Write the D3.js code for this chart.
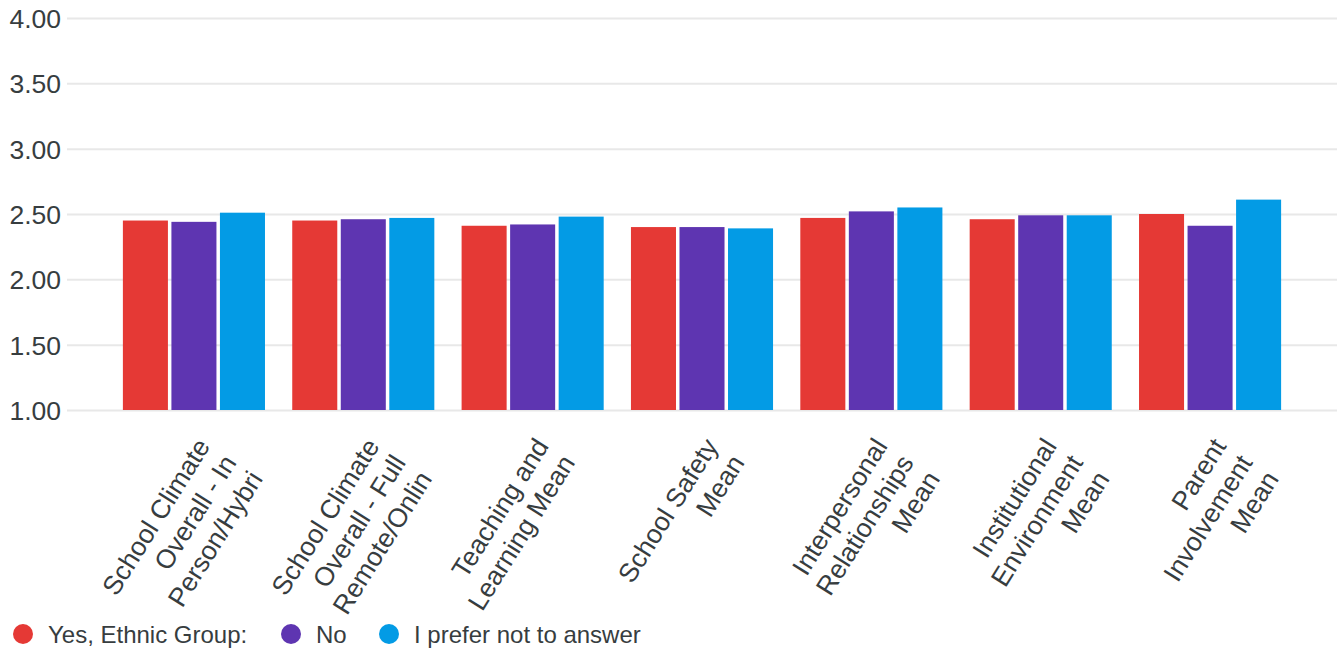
<!DOCTYPE html>
<html>
<head>
<meta charset="utf-8">
<script src="https://cdn.jsdelivr.net/npm/d3@7"></script>
<style>
  html, body { margin: 0; padding: 0; background: #fff; }
  svg { display: block; font-family: "Liberation Sans", Arial, sans-serif; }
</style>
</head>
<body>
<svg id="chart" width="1342" height="654"></svg>
<script>
const categories = [
  ["School Climate", "Overall - In", "Person/Hybri"],
  ["School Climate", "Overall - Full", "Remote/Onlin"],
  ["Teaching and", "Learning Mean"],
  ["School Safety", "Mean"],
  ["Interpersonal", "Relationships", "Mean"],
  ["Institutional", "Environment", "Mean"],
  ["Parent", "Involvement", "Mean"]
];
const seriesNames = ["Yes, Ethnic Group:", "No", "I prefer not to answer"];
const seriesColors = ["#E53935", "#5E35B1", "#039BE5"];
const yesValues    = [2.45, 2.45, 2.41, 2.40, 2.47, 2.46, 2.50];
const noValues     = [2.44, 2.46, 2.42, 2.40, 2.52, 2.49, 2.41];
const preferValues = [2.51, 2.47, 2.48, 2.39, 2.55, 2.49, 2.61];
const yTicks = [1.0, 1.5, 2.0, 2.5, 3.0, 3.5, 4.0];

const series = [yesValues, noValues, preferValues];
const catKeys = categories.map((c, i) => i);

const svg = d3.select("#chart");

const x0 = d3.scaleBand().domain(catKeys).range([67, 1337])
  .paddingInner(0.161).paddingOuter(0.33);
const x1 = d3.scaleBand().domain([0, 1, 2]).range([0, x0.bandwidth()])
  .paddingInner(0.072);
const y = d3.scaleLinear().domain([1, 4]).range([410, 18]);

// gridlines
const grid = svg.append("g").attr("class", "grid")
  .attr("transform", "translate(67,0)")
  .call(d3.axisLeft(y).tickValues(yTicks).tickSize(-1270).tickFormat(""));
grid.select(".domain").remove();
grid.selectAll("line").attr("stroke", "#e8e8e8").attr("stroke-width", 2);

// y labels
const yAxis = svg.append("g").attr("transform", "translate(61,0)")
  .call(d3.axisLeft(y).tickValues(yTicks).tickSize(0).tickPadding(0).tickFormat(d3.format(".2f")));
yAxis.select(".domain").remove();
yAxis.selectAll("text")
  .attr("font-size", 26.5).attr("fill", "#373d3f")
  .attr("font-family", "Liberation Sans, Arial, sans-serif")
  .attr("dy", "0.36em");

// bars
const groups = svg.append("g").selectAll("g").data(catKeys).join("g")
  .attr("transform", d => `translate(${x0(d)},0)`);
groups.selectAll("rect")
  .data(ci => series.map((s, si) => ({ si, v: s[ci] })))
  .join("rect")
  .attr("x", d => x1(d.si))
  .attr("width", x1.bandwidth())
  .attr("y", d => y(d.v))
  .attr("height", d => y(1) - y(d.v))
  .attr("fill", d => seriesColors[d.si]);

// x labels
const lineH = 31;
const xl = svg.append("g").selectAll("text").data(catKeys).join("text")
  .attr("transform", d => `translate(${x0(d) + x0.bandwidth() / 2 + 17},${446}) rotate(-58)`)
  .attr("text-anchor", "end")
  .attr("font-size", 26.5)
  .attr("fill", "#373d3f");
xl.each(function(d) {
  const t = d3.select(this);
  categories[d].forEach((line, i) => {
    t.append("tspan").attr("x", 0).attr("y", i * lineH).text(line);
  });
});

// legend
const legendX = [23, 291, 389];
const legend = svg.append("g").selectAll("g").data(seriesNames).join("g")
  .attr("transform", (d, i) => `translate(${legendX[i]},634)`);
legend.append("circle").attr("r", 10).attr("fill", (d, i) => seriesColors[i]);
legend.append("text").attr("x", 25).attr("y", 9)
  .attr("font-size", 24).attr("fill", "#373d3f").text(d => d);
</script>
</body>
</html>
